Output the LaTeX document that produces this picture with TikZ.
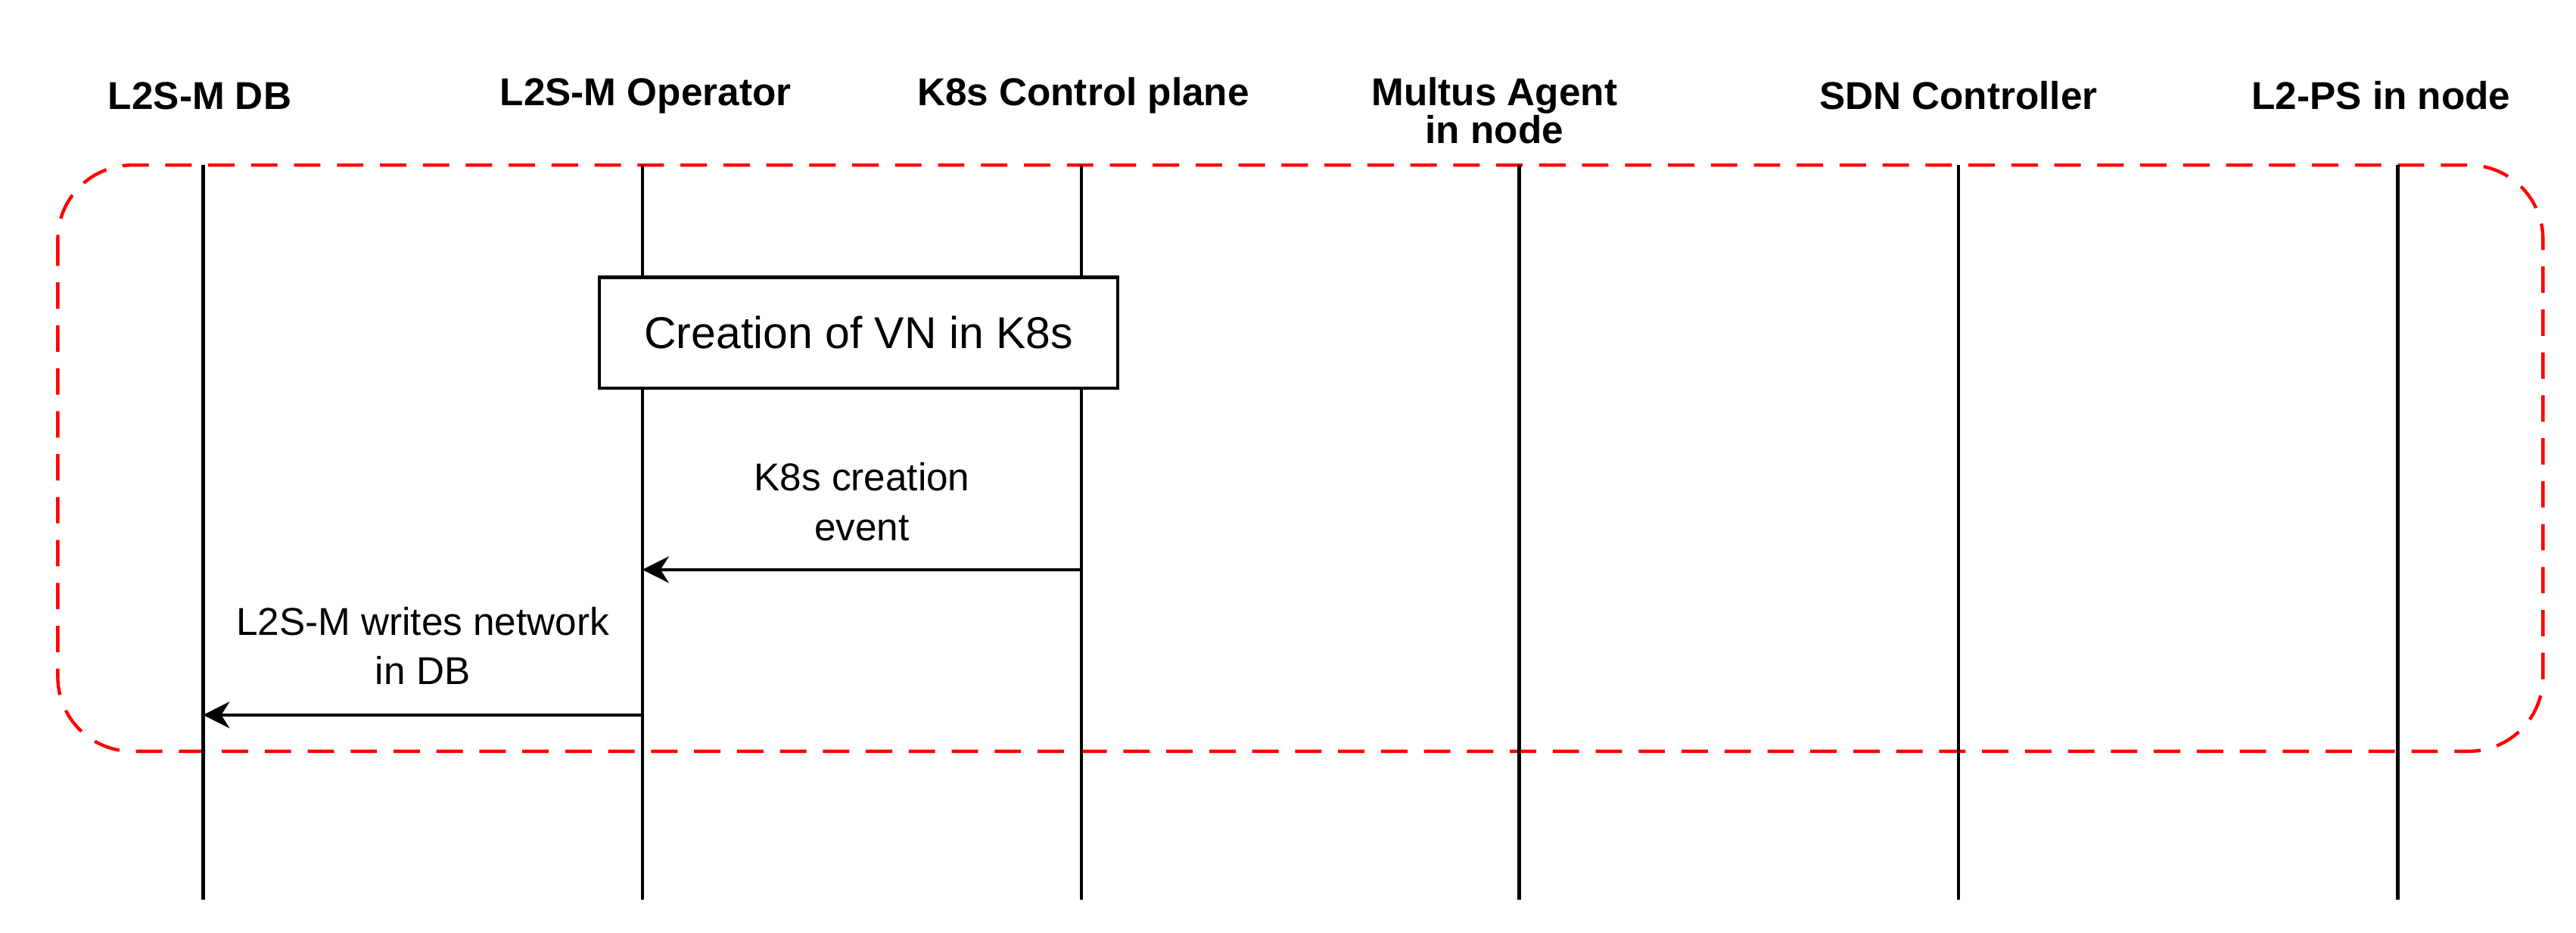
\documentclass[tikz,border=0pt]{standalone}
\usepackage{fontspec}
\setmainfont{Liberation Sans}
\usetikzlibrary{arrows.meta}
\begin{document}
\begin{tikzpicture}[x=1pt,y=-1pt,
  head/.style={font=\fontsize{23.5}{19}\selectfont\bfseries,align=center},
  lbl/.style={font=\fontsize{23.5}{30}\selectfont,align=center},
  life/.style={line width=2pt},
  msg/.style={line width=2pt,-{Stealth[length=16pt,width=16pt,inset=5pt]}}]
\useasboundingbox (0,0) rectangle (1560,565);
\draw[red, line width=2pt, dash pattern=on 16pt off 10pt, rounded corners=45pt] (35,100) rectangle (1540,455);
\foreach \n/\x in {a/123,b/389,c/655,d/920,e/1186,f/1452}{
  \coordinate (\n t) at (\x,100); \coordinate (\n b) at (\x,545);
  \draw[life] (\n t) -- (\n b);
}
\node[head] (h1) at (121,58) {L2S-M DB};
\node[head] (h2) at (391,58) {L2S-M Operator};
\node[head] (h3) at (656,58) {K8s Control plane};
\node[head] (h4) at (905,67) {Multus Agent\\in node};
\node[head] (h5) at (1186,58) {SDN Controller};
\node[head] (h6) at (1442,58) {L2-PS in node};
\node[draw, line width=2pt, fill=white, minimum width=314pt, minimum height=67pt, font=\fontsize{27}{30}\selectfont] (box) at (520,201.5) {Creation of VN in K8s};
\coordinate (c1) at (655,345); \coordinate (b1) at (389,345);
\coordinate (b2) at (389,433); \coordinate (a2) at (123,433);
\draw[msg] (c1) -- (b1);
\draw[msg] (b2) -- (a2);
\node[lbl] (l1) at (522,304) {K8s creation\\event};
\node[lbl] (l2) at (256,391) {L2S-M writes network\\in DB};
\end{tikzpicture}
\end{document}
